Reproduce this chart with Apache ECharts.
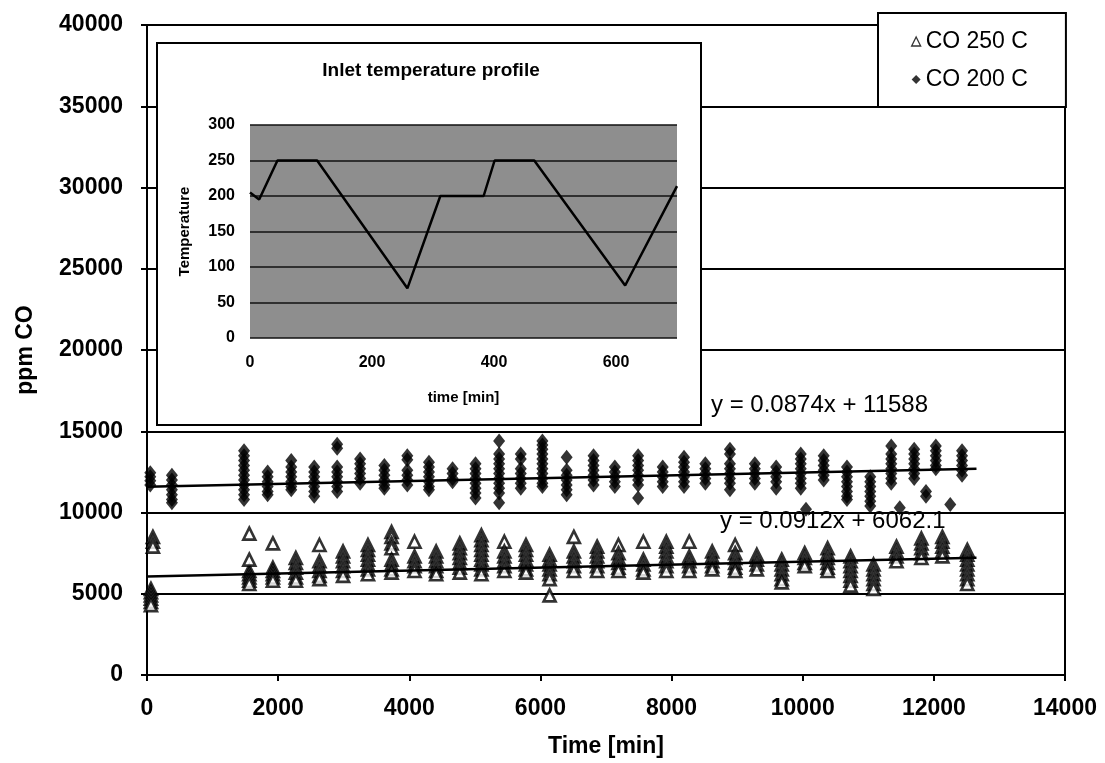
<!DOCTYPE html>
<html>
<head>
<meta charset="utf-8">
<script src="https://cdn.jsdelivr.net/npm/echarts@6/dist/echarts.min.js"></script>
<style>
  html, body { margin: 0; padding: 0; background: #fff; }
  #chart { width: 1105px; height: 763px; }
</style>
</head>
<body>
<div id="chart"></div>
<script>
// CO readings grouped by sampling cycle: [time (min), [ppm CO values in that cycle]]
const co250Clusters = [
  [60, [5300, 5100, 4900, 4700, 4500, 4300]],
  [90, [8500, 8200, 7900]],
  [1560, [6400, 6200, 6000, 5800, 5600, 7100, 8700]],
  [1920, [6600, 6400, 6200, 6000, 5800, 8100]],
  [2270, [7200, 6900, 6600, 6300, 6000, 5800]],
  [2630, [7000, 6700, 6400, 6100, 5900, 8000]],
  [2990, [7600, 7300, 7000, 6700, 6400, 6100]],
  [3370, [8000, 7700, 7400, 7100, 6800, 6500, 6200]],
  [3730, [8800, 8500, 8100, 7800, 7100, 6800, 6500, 6300]],
  [4080, [8200, 7300, 7000, 6700, 6400]],
  [4410, [7600, 7300, 7000, 6700, 6400, 6200]],
  [4770, [8100, 7800, 7500, 7200, 6900, 6600, 6300]],
  [5100, [8600, 8300, 8000, 7700, 7400, 7100, 6800, 6500, 6200]],
  [5450, [8200, 7600, 7300, 7000, 6700, 6400]],
  [5780, [8000, 7700, 7400, 7100, 6800, 6500, 6300]],
  [6140, [7400, 7100, 6800, 6500, 6200, 5900, 4900]],
  [6510, [8500, 7600, 7300, 7000, 6700, 6400]],
  [6865, [7900, 7600, 7300, 7000, 6700, 6400]],
  [7190, [8000, 7500, 7200, 6900, 6600, 6400]],
  [7570, [8200, 7100, 6800, 6500, 6300]],
  [7920, [8200, 7900, 7600, 7300, 7000, 6700, 6400]],
  [8270, [8200, 7300, 7000, 6700, 6400]],
  [8620, [7600, 7300, 7000, 6700, 6500]],
  [8970, [8000, 7500, 7200, 6900, 6600, 6400]],
  [9300, [7400, 7100, 6800, 6500]],
  [9680, [7100, 6800, 6500, 6200, 5900, 5700]],
  [10030, [7500, 7200, 6900, 6700]],
  [10380, [7800, 7500, 7200, 6900, 6600, 6400]],
  [10730, [7300, 7000, 6700, 6400, 6100, 5800, 5500]],
  [11080, [6800, 6500, 6200, 5900, 5600, 5300]],
  [11430, [7900, 7600, 7300, 7000]],
  [11810, [8400, 8100, 7800, 7500, 7200]],
  [12130, [8500, 8200, 7900, 7600, 7300]],
  [12510, [7700, 7400, 7100, 6800, 6500, 6200, 5900, 5600]]
];

const co200Clusters = [
  [50, [12450, 12200, 11950, 11700]],
  [380, [12300, 12000, 11700, 11400, 11100, 10800, 10600]],
  [1480, [13800, 13500, 13200, 12900, 12600, 12300, 12000, 11700, 11400, 11100, 10800]],
  [1840, [12500, 12200, 11900, 11600, 11300, 11100]],
  [2200, [13200, 12800, 12500, 12200, 11900, 11600, 11400]],
  [2550, [12800, 12500, 12200, 11900, 11600, 11300, 11000]],
  [2900, [14200, 13950, 12800, 12500, 12200, 11900, 11600, 11300]],
  [3250, [13300, 13000, 12700, 12400, 12100, 11800]],
  [3620, [12900, 12600, 12300, 12000, 11700, 11500]],
  [3970, [13500, 13250, 12600, 12300, 12000, 11700]],
  [4300, [13100, 12800, 12500, 12200, 11900, 11600, 11400]],
  [4660, [12700, 12400, 12100, 11900]],
  [5010, [13000, 12700, 12400, 12100, 11800, 11500, 11200, 10900]],
  [5370, [14400, 13600, 13300, 13000, 12700, 12400, 12100, 11800, 11500, 11200, 10600]],
  [5700, [13600, 13300, 12700, 12400, 12100, 11800, 11500]],
  [6030, [14400, 14150, 13900, 13600, 13300, 13000, 12700, 12400, 12100, 11800, 11600]],
  [6400, [13400, 12600, 12300, 12000, 11700, 11400, 11100]],
  [6810, [13500, 13200, 12900, 12600, 12300, 12000, 11700]],
  [7135, [12800, 12500, 12200, 11900, 11600]],
  [7490, [13500, 13200, 12900, 12600, 12300, 12000, 11700, 10900]],
  [7865, [12800, 12500, 12200, 11900, 11600]],
  [8190, [13400, 13100, 12800, 12500, 12200, 11900, 11600]],
  [8515, [13000, 12700, 12400, 12100, 11800]],
  [8890, [13900, 13600, 13000, 12700, 12400, 12100, 11800, 11400]],
  [9270, [13000, 12700, 12400, 12100, 11800]],
  [9595, [12800, 12500, 12200, 11900, 11500]],
  [9970, [13600, 13300, 13000, 12700, 12400, 12100, 11800, 11500]],
  [10050, [10200]],
  [10320, [13500, 13200, 12900, 12600, 12300, 12000]],
  [10675, [12800, 12500, 12200, 11900, 11600, 11300, 11000, 10800]],
  [11030, [12200, 11900, 11600, 11300, 11000, 10700, 10400]],
  [11350, [14100, 13600, 13300, 13000, 12700, 12400, 12100, 11800]],
  [11480, [10300]],
  [11700, [13900, 13600, 13300, 13000, 12700, 12400, 12100]],
  [11880, [11300, 11000]],
  [12030, [14100, 13800, 13500, 13200, 12900, 12700]],
  [12250, [10500]],
  [12430, [13800, 13500, 13200, 12900, 12600, 12300]]
];

// Linear fits shown on the chart (y = slope * x + intercept), drawn over the sampled time span
const trend250 = { slope: 0.0912, intercept: 6062.1, xEnd: 12650, label: 'y = 0.0912x + 6062.1' };
const trend200 = { slope: 0.0874, intercept: 11588, xEnd: 12650, label: 'y = 0.0874x + 11588' };

// Inlet temperature profile (inset): time [min] and temperature
const profileTime = [0, 15, 45, 110, 258, 312, 383, 401, 466, 615, 700];
const profileTemp = [205, 195, 250, 250, 70, 200, 200, 250, 250, 74, 214];

const FONT = 'Liberation Sans, Arial, sans-serif';

function toPoints(clusters) {
  const pts = [];
  clusters.forEach(([t, vals]) => vals.forEach(v => pts.push([t, v])));
  return pts;
}
function trendLine(tr) {
  return [[0, tr.intercept], [tr.xEnd, tr.slope * tr.xEnd + tr.intercept]];
}
const plain = v => String(v);

const chart = echarts.init(document.getElementById('chart'), null, { renderer: 'canvas' });

const mainLabel = { color: '#000', fontSize: 23, fontWeight: 'bold', fontFamily: FONT };
const insetLabel = { color: '#000', fontSize: 16, fontWeight: 'bold', fontFamily: FONT };

chart.setOption({
  animation: false,
  backgroundColor: '#fff',
  grid: [
    { left: 147, right: 40, top: 25, bottom: 87, show: true, borderColor: '#000', borderWidth: 2, backgroundColor: 'transparent' },
    { left: 250, top: 125, width: 427, height: 213, show: true, backgroundColor: '#8e8e8e', borderWidth: 0, z: 6 }
  ],
  legend: {
    data: [
      { name: 'CO 250 C', icon: 'triangle', itemStyle: { color: '#fff', borderColor: '#000', borderWidth: 1.3 } },
      { name: 'CO 200 C', icon: 'diamond', itemStyle: { color: '#000' } }
    ],
    orient: 'vertical',
    left: 878, top: 13,
    padding: [17, 38, 16, 33],
    itemGap: 15, itemWidth: 9, itemHeight: 9,
    backgroundColor: '#fff', borderColor: '#000', borderWidth: 2,
    textStyle: { color: '#000', fontSize: 23, fontFamily: FONT },
    z: 10
  },
  xAxis: [
    {
      gridIndex: 0, type: 'value', min: 0, max: 14000, interval: 2000,
      axisLine: { lineStyle: { color: '#000', width: 2 } },
      axisTick: { show: true, length: 6, lineStyle: { color: '#000', width: 2 } },
      splitLine: { show: false },
      axisLabel: Object.assign({ margin: 22, formatter: plain }, mainLabel),
      name: 'Time [min]', nameLocation: 'middle', nameGap: 60,
      nameTextStyle: mainLabel
    },
    {
      gridIndex: 1, type: 'value', min: 0, max: 700, interval: 200,
      axisLine: { show: false }, axisTick: { show: false }, splitLine: { show: false },
      axisLabel: Object.assign({ margin: 17, showMaxLabel: false, formatter: plain }, insetLabel),
      name: 'time [min]', nameLocation: 'middle', nameGap: 52,
      nameTextStyle: { color: '#000', fontSize: 15, fontWeight: 'bold', fontFamily: FONT },
      z: 7
    }
  ],
  yAxis: [
    {
      gridIndex: 0, type: 'value', min: 0, max: 40000, interval: 5000,
      axisLine: { show: true, lineStyle: { color: '#000', width: 2 } },
      axisTick: { show: true, length: 6, lineStyle: { color: '#000', width: 2 } },
      splitLine: { show: true, lineStyle: { color: '#000', width: 2 } },
      axisLabel: Object.assign({ margin: 24, formatter: plain }, mainLabel),
      name: 'ppm CO', nameLocation: 'middle', nameGap: 110, nameRotate: 90,
      nameTextStyle: mainLabel
    },
    {
      gridIndex: 1, type: 'value', min: 0, max: 300, interval: 50,
      axisLine: { show: false }, axisTick: { show: false },
      splitLine: { show: true, lineStyle: { color: '#111', width: 1.5 } },
      axisLabel: Object.assign({ margin: 15, formatter: plain }, insetLabel),
      name: 'Temperature', nameLocation: 'middle', nameGap: 58, nameRotate: 90,
      nameTextStyle: { color: '#000', fontSize: 15, fontWeight: 'bold', fontFamily: FONT },
      z: 7
    }
  ],
  graphic: [
    { type: 'rect', z: 5, shape: { x: 157, y: 43, width: 544, height: 382 },
      style: { fill: '#fff', stroke: '#000', lineWidth: 2 } },
    { type: 'text', z: 9, x: 431, y: 71,
      style: { text: 'Inlet temperature profile', fill: '#000', font: 'bold 19px ' + FONT, textAlign: 'center', textVerticalAlign: 'middle' } },
    { type: 'text', z: 9, x: 711, y: 405,
      style: { text: trend200.label, fill: '#000', font: '24px ' + FONT, textAlign: 'left', textVerticalAlign: 'middle' } },
    { type: 'text', z: 9, x: 720, y: 521,
      style: { text: trend250.label, fill: '#000', font: '24px ' + FONT, textAlign: 'left', textVerticalAlign: 'middle' } }
  ],
  series: [
    {
      name: 'CO 250 C', type: 'scatter', xAxisIndex: 0, yAxisIndex: 0,
      symbol: 'triangle', symbolSize: 12,
      itemStyle: { color: '#fff', borderColor: '#000', borderWidth: 2.6 },
      data: toPoints(co250Clusters), z: 3
    },
    {
      name: 'CO 200 C', type: 'scatter', xAxisIndex: 0, yAxisIndex: 0,
      symbol: 'diamond', symbolSize: [12, 15],
      itemStyle: { color: '#000' },
      data: toPoints(co200Clusters), z: 3
    },
    {
      name: 'trend 250', type: 'line', xAxisIndex: 0, yAxisIndex: 0,
      data: trendLine(trend250), showSymbol: false, silent: true,
      lineStyle: { color: '#000', width: 2.5 }, z: 4
    },
    {
      name: 'trend 200', type: 'line', xAxisIndex: 0, yAxisIndex: 0,
      data: trendLine(trend200), showSymbol: false, silent: true,
      lineStyle: { color: '#000', width: 2.5 }, z: 4
    },
    {
      name: 'Inlet temperature', type: 'line', xAxisIndex: 1, yAxisIndex: 1,
      data: profileTime.map((t, i) => [t, profileTemp[i]]),
      showSymbol: false, silent: true,
      lineStyle: { color: '#000', width: 2.5 }, z: 8
    }
  ]
});
</script>
</body>
</html>
